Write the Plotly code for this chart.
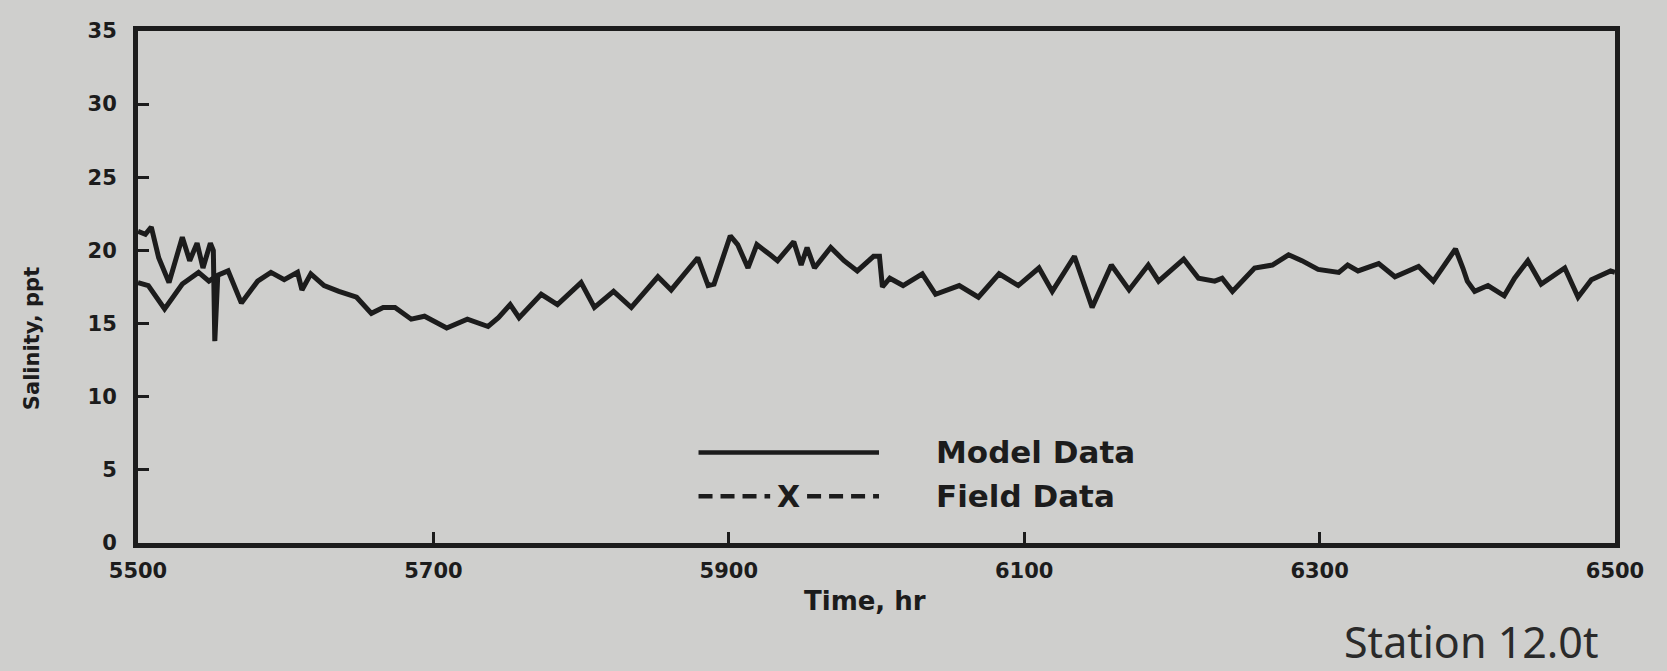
import plotly.graph_objects as go

# ---- data ----
model_time = [5500, 5507, 5518, 5530, 5541, 5548, 5554, 5561, 5570, 5581, 5590, 5599, 5608, 5611,
              5617, 5626, 5636, 5648, 5658, 5666, 5674, 5685, 5694, 5709, 5723, 5737, 5744, 5752,
              5758, 5773, 5784, 5800, 5809, 5822, 5834, 5852, 5861, 5879, 5886, 5890, 5901, 5906,
              5913, 5919, 5928, 5933, 5944, 5949, 5953, 5958, 5969, 5978, 5987, 5998, 6002, 6004,
              6009, 6018, 6031, 6040, 6056, 6069, 6083, 6096, 6110, 6119, 6134, 6146, 6159, 6171,
              6184, 6191, 6208, 6218, 6229, 6234, 6241, 6256, 6268, 6279, 6288, 6299, 6313, 6319,
              6326, 6340, 6351, 6367, 6377, 6392, 6397, 6400, 6405, 6414, 6425, 6432, 6441, 6450,
              6466, 6475, 6484, 6497, 6500]
model_salinity = [17.8, 17.6, 16.0, 17.7, 18.5, 17.9, 18.3, 18.6, 16.4, 17.9, 18.5, 18.0, 18.5, 17.3,
                  18.4, 17.6, 17.2, 16.8, 15.7, 16.1, 16.1, 15.3, 15.5, 14.7, 15.3, 14.8, 15.4, 16.3,
                  15.4, 17.0, 16.3, 17.8, 16.1, 17.2, 16.1, 18.2, 17.3, 19.5, 17.6, 17.7, 21.0, 20.4,
                  18.8, 20.4, 19.7, 19.3, 20.6, 19.0, 20.2, 18.8, 20.2, 19.3, 18.6, 19.6, 19.6, 17.5,
                  18.1, 17.6, 18.4, 17.0, 17.6, 16.8, 18.4, 17.6, 18.8, 17.2, 19.6, 16.1, 19.0, 17.3,
                  19.0, 17.9, 19.4, 18.1, 17.9, 18.1, 17.2, 18.8, 19.0, 19.7, 19.3, 18.7, 18.5, 19.0,
                  18.6, 19.1, 18.2, 18.9, 17.9, 20.1, 18.8, 17.9, 17.2, 17.6, 16.9, 18.1, 19.3, 17.7,
                  18.8, 16.8, 18.0, 18.6, 18.5]

# second (upper) model branch at the start of the record
model2_time = [5500, 5505, 5509, 5514, 5521, 5530, 5535, 5540, 5544, 5549, 5551, 5552, 5554]
model2_salinity = [21.3, 21.1, 21.6, 19.5, 17.8, 20.9, 19.3, 20.5, 18.8, 20.5, 20.0, 13.8, 18.3]

# no field observations are plotted in this panel
field_time = []
field_salinity = []

x_ticks = [5500, 5700, 5900, 6100, 6300, 6500]
y_ticks = [0, 5, 10, 15, 20, 25, 30, 35]

BG = "#cfcfcd"
INK = "#1c1c1c"
TICKFONT = dict(family="DejaVu Sans", size=21, color=INK, weight="bold")

fig = go.Figure()
fig.add_trace(go.Scatter(x=model_time, y=model_salinity, mode="lines", name="Model Data",
                         line=dict(color=INK, width=5), showlegend=False))
fig.add_trace(go.Scatter(x=model2_time, y=model2_salinity, mode="lines", name="Model Data",
                         line=dict(color=INK, width=5), showlegend=False))
fig.add_trace(go.Scatter(x=field_time, y=field_salinity, mode="lines+markers", name="Field Data",
                         line=dict(color=INK, width=3, dash="dash"),
                         marker=dict(symbol="x-thin", size=14, line=dict(width=3, color=INK)),
                         showlegend=False))

# hand-built legend (long sample lines as in the original)
fig.add_shape(type="line", xref="paper", yref="paper", x0=0.3795, x1=0.5017, y0=0.177, y1=0.177,
              line=dict(color=INK, width=4.5))
fig.add_shape(type="line", xref="paper", yref="paper", x0=0.3795, x1=0.428, y0=0.0914, y1=0.0914,
              line=dict(color=INK, width=4.5, dash="14px,8px"))
fig.add_shape(type="line", xref="paper", yref="paper", x0=0.453, x1=0.5017, y0=0.0914, y1=0.0914,
              line=dict(color=INK, width=4.5, dash="14px,8px"))
fig.add_annotation(xref="paper", yref="paper", x=0.4405, y=0.0914, text="X", showarrow=False,
                   font=dict(family="DejaVu Sans", size=30, color=INK, weight="bold"),
                   xanchor="center", yanchor="middle")
fig.add_annotation(xref="paper", yref="paper", x=0.5388, y=0.177, text="Model Data", showarrow=False,
                   font=dict(family="DejaVu Sans", size=31, color=INK, weight="bold"),
                   xanchor="left", yanchor="middle")
fig.add_annotation(xref="paper", yref="paper", x=0.5388, y=0.0914, text="Field Data", showarrow=False,
                   font=dict(family="DejaVu Sans", size=31, color=INK, weight="bold"),
                   xanchor="left", yanchor="middle")

# axis titles (placed off-centre, as in the original)
fig.add_annotation(xref="paper", yref="paper", x=-0.0718, y=0.40, text="Salinity, ppt", showarrow=False,
                   textangle=-90, font=dict(family="DejaVu Sans", size=21, color=INK, weight="bold"),
                   xanchor="center", yanchor="middle")
fig.add_annotation(xref="paper", yref="paper", x=0.492, y=-0.113, text="Time, hr", showarrow=False,
                   font=dict(family="DejaVu Sans", size=26, color=INK, weight="bold"),
                   xanchor="center", yanchor="middle")

fig.add_annotation(xref="paper", yref="paper", x=0.990, y=-0.192, text="Station 12.0t", showarrow=False,
                   font=dict(family="Noto Sans", size=43, color="#2a2a2a"),
                   xanchor="right", yanchor="middle")

fig.update_xaxes(range=[5500, 6500], tickvals=x_ticks, ticktext=[str(v) for v in x_ticks],
                 showline=True, mirror=True, linecolor=INK, linewidth=5,
                 ticks="inside", ticklen=11, tickwidth=3, tickcolor=INK,
                 showgrid=False, zeroline=False, tickfont=TICKFONT, ticklabelstandoff=5)
fig.update_yaxes(range=[0, 35], tickvals=y_ticks, ticktext=[str(v) for v in y_ticks],
                 showline=True, mirror=True, linecolor=INK, linewidth=5,
                 ticks="inside", ticklen=11, tickwidth=3, tickcolor=INK,
                 showgrid=False, zeroline=False, tickfont=TICKFONT, ticklabelstandoff=12)

fig.update_layout(width=1667, height=671, paper_bgcolor=BG, plot_bgcolor=BG,
                  margin=dict(l=138, r=52, t=31, b=128), showlegend=False)

# remove the page's default body margin so the figure fills the window like the scanned page
fig.write_html("out.html", config={"displayModeBar": False},
               post_script="document.body.style.margin='0';document.body.style.background='%s';"
                           "document.body.style.overflow='hidden';" % BG)
